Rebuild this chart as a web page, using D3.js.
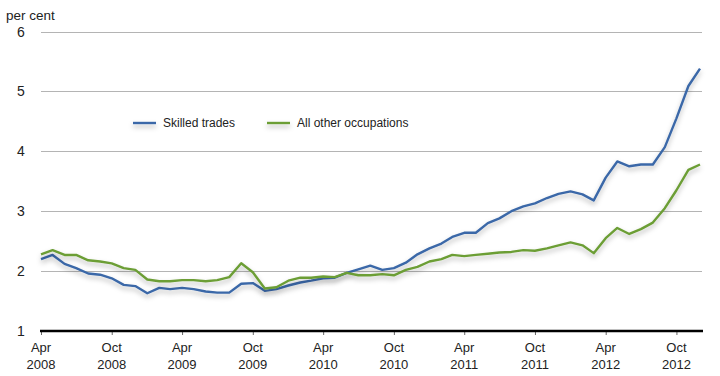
<!DOCTYPE html>
<html>
<head>
<meta charset="utf-8">
<script src="https://cdn.jsdelivr.net/npm/d3@7"></script>
<style>
  html, body { margin: 0; padding: 0; background: #fff; }
  svg { display: block; font-family: "Liberation Sans", Arial, sans-serif; }
</style>
</head>
<body>
<div id="chart"></div>
<script>
// monthly, Apr 2008 .. Dec 2012
const months = d3.timeMonth.range(new Date(2008, 3, 1), new Date(2013, 0, 1));

const skilledTrades = [
  2.20, 2.27, 2.12, 2.05, 1.96, 1.94, 1.88, 1.77, 1.75, 1.63,
  1.72, 1.70, 1.72, 1.70, 1.66, 1.64, 1.64, 1.79, 1.80, 1.67,
  1.70, 1.76, 1.81, 1.84, 1.88, 1.89, 1.97, 2.03, 2.09, 2.02,
  2.05, 2.14, 2.28, 2.38, 2.46, 2.57, 2.64, 2.64, 2.80, 2.88,
  3.00, 3.08, 3.13, 3.22, 3.29, 3.33, 3.28, 3.18, 3.56, 3.83,
  3.75, 3.78, 3.78, 4.07, 4.55, 5.09, 5.38
];

const otherOccupations = [
  2.28, 2.35, 2.27, 2.27, 2.18, 2.16, 2.13, 2.05, 2.02, 1.86,
  1.83, 1.83, 1.85, 1.85, 1.83, 1.85, 1.90, 2.13, 1.98, 1.71,
  1.73, 1.84, 1.89, 1.89, 1.91, 1.90, 1.97, 1.93, 1.93, 1.95,
  1.93, 2.02, 2.07, 2.16, 2.20, 2.27, 2.25, 2.27, 2.29, 2.31,
  2.32, 2.35, 2.34, 2.38, 2.43, 2.48, 2.43, 2.30, 2.55, 2.72,
  2.62, 2.70, 2.81, 3.05, 3.35, 3.69, 3.78
];

const seriesNames = ["Skilled trades", "All other occupations"];
const seriesColors = ["#3b68a8", "#6c9e36"];

const yTicks = [1, 2, 3, 4, 5, 6];
const tickDates = [
  new Date(2008, 3, 1), new Date(2008, 9, 1), new Date(2009, 3, 1), new Date(2009, 9, 1),
  new Date(2010, 3, 1), new Date(2010, 9, 1), new Date(2011, 3, 1), new Date(2011, 9, 1),
  new Date(2012, 3, 1), new Date(2012, 9, 1)
];
const tickLabels = [
  ["Apr", "2008"], ["Oct", "2008"], ["Apr", "2009"], ["Oct", "2009"], ["Apr", "2010"],
  ["Oct", "2010"], ["Apr", "2011"], ["Oct", "2011"], ["Apr", "2012"], ["Oct", "2012"]
];

const width = 720, height = 376;

const svg = d3.select("#chart").append("svg")
  .attr("width", width)
  .attr("height", height);

// soft shadow under the lines (user space so flat legend lines still get it)
svg.append("defs")
  .append("filter")
  .attr("id", "shadow")
  .attr("filterUnits", "userSpaceOnUse")
  .attr("x", 0).attr("y", 0)
  .attr("width", width).attr("height", height)
  .append("feDropShadow")
  .attr("dx", 0).attr("dy", 3)
  .attr("stdDeviation", 2.5)
  .attr("flood-color", "#000")
  .attr("flood-opacity", 0.28);

const x = d3.scaleTime()
  .domain([months[0], months[months.length - 1]])
  .range([41, 700]);

const y = d3.scaleLinear()
  .domain([1, 6])
  .range([331, 31.5]);

// gridlines
svg.append("g")
  .selectAll("line")
  .data(yTicks.filter((d) => d > 1))
  .enter()
  .append("line")
  .attr("x1", 41)
  .attr("x2", 702)
  .attr("y1", (d) => Math.round(y(d)) + 0.5)
  .attr("y2", (d) => Math.round(y(d)) + 0.5)
  .attr("stroke", "#b4b4b4")
  .attr("stroke-width", 1);

// y labels
svg.append("g")
  .selectAll("text")
  .data(yTicks)
  .enter()
  .append("text")
  .attr("x", 21)
  .attr("y", (d) => y(d) + 5)
  .attr("text-anchor", "middle")
  .attr("font-size", 14)
  .attr("fill", "#222")
  .text((d) => d);

svg.append("text")
  .attr("x", 6)
  .attr("y", 20)
  .attr("font-size", 13.5)
  .attr("fill", "#222")
  .text("per cent");

// x axis
const xAxis = svg.append("g")
  .attr("transform", `translate(0,${y(1)})`)
  .call(d3.axisBottom(x).tickValues(tickDates).tickSize(4).tickFormat(""));
xAxis.select(".domain").remove();
xAxis.selectAll(".tick line").attr("stroke", "#666");

svg.append("line")
  .attr("x1", 40)
  .attr("x2", 703)
  .attr("y1", y(1))
  .attr("y2", y(1))
  .attr("stroke", "#000")
  .attr("stroke-width", 2.5);

const labels = svg.append("g")
  .selectAll("text")
  .data(tickDates)
  .enter()
  .append("text")
  .attr("x", (d) => x(d))
  .attr("text-anchor", "middle")
  .attr("font-size", 13)
  .attr("fill", "#222");
labels.append("tspan").attr("x", (d) => x(d)).attr("y", 352).text((d, i) => tickLabels[i][0]);
labels.append("tspan").attr("x", (d) => x(d)).attr("y", 369).text((d, i) => tickLabels[i][1]);

// lines
const line = d3.line()
  .x((d, i) => x(months[i]))
  .y((d) => y(d));

[skilledTrades, otherOccupations].forEach((s, k) => {
  svg.append("path")
    .datum(s)
    .attr("fill", "none")
    .attr("stroke", seriesColors[k])
    .attr("stroke-width", 2.4)
    .attr("stroke-linejoin", "round")
    .attr("filter", "url(#shadow)")
    .attr("d", line);
});

// legend
const legendX = [133, 267];
const legend = svg.append("g");
seriesNames.forEach((name, k) => {
  legend.append("line")
    .attr("x1", legendX[k])
    .attr("x2", legendX[k] + 23)
    .attr("y1", 123)
    .attr("y2", 123)
    .attr("stroke", seriesColors[k])
    .attr("stroke-width", 2.4)
    .attr("filter", "url(#shadow)");
  legend.append("text")
    .attr("x", legendX[k] + 30)
    .attr("y", 127)
    .attr("font-size", 12)
    .attr("fill", "#222")
    .text(name);
});
</script>
</body>
</html>
